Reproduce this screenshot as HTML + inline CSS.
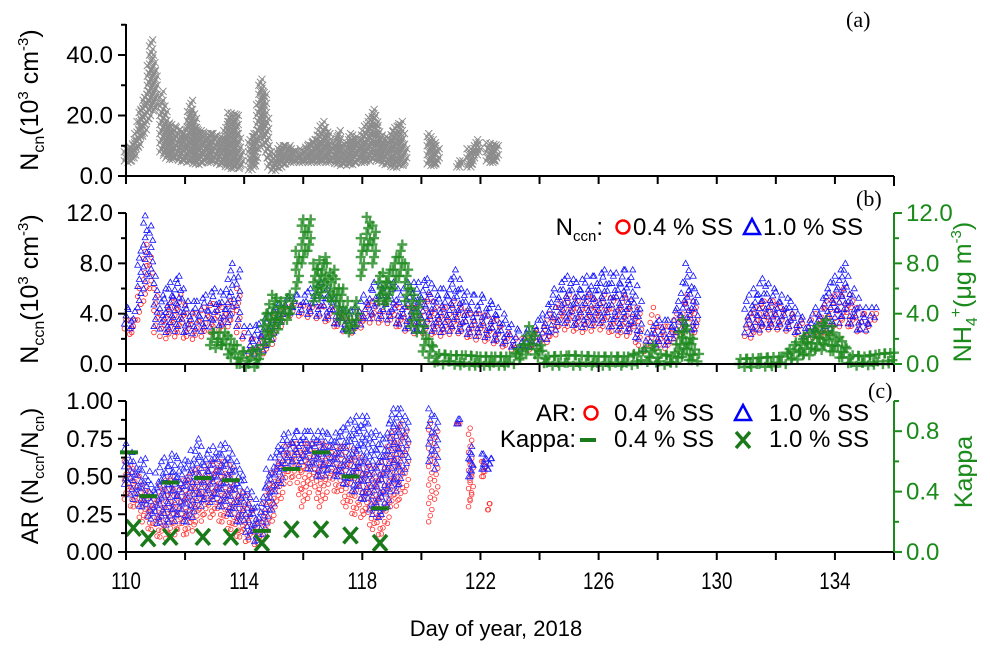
<!DOCTYPE html>
<html><head><meta charset="utf-8">
<style>
html,body{margin:0;padding:0;background:#fff;}
svg{display:block;font-family:"Liberation Sans",sans-serif;}
</style></head>
<body>
<svg id="chart" width="990" height="651" viewBox="0 0 990 651" xmlns="http://www.w3.org/2000/svg">
<rect width="990" height="651" fill="#fff"/>
<g id="marks"></g>
<g id="axes"></g>
<text x="846" y="27" font-family="Liberation Serif,serif" font-size="22">(a)</text>
<text x="856" y="206" font-family="Liberation Serif,serif" font-size="22">(b)</text>
<text x="868" y="398" font-family="Liberation Serif,serif" font-size="22">(c)</text>
<text transform="translate(38,100) rotate(-90)" text-anchor="middle" font-size="25">N<tspan font-size="16" dy="6">cn</tspan><tspan dy="-6">(10</tspan><tspan font-size="15" dy="-10">3</tspan><tspan dy="10"> cm</tspan><tspan font-size="15" dy="-10">-3</tspan><tspan dy="10">)</tspan></text>
<text transform="translate(38,289) rotate(-90)" text-anchor="middle" font-size="25">N<tspan font-size="16" dy="6">ccn</tspan><tspan dy="-6">(10</tspan><tspan font-size="15" dy="-10">3</tspan><tspan dy="10"> cm</tspan><tspan font-size="15" dy="-10">-3</tspan><tspan dy="10">)</tspan></text>
<text transform="translate(38,476) rotate(-90)" text-anchor="middle" font-size="24">AR (N<tspan font-size="15" dy="6">ccn</tspan><tspan dy="-6">/N</tspan><tspan font-size="15" dy="6">cn</tspan><tspan dy="-6">)</tspan></text>
<text transform="translate(971,292) rotate(-90)" text-anchor="middle" font-size="25" fill="#1a8a1a">NH<tspan font-size="16" dy="6">4</tspan><tspan font-size="16" dy="-16">+</tspan><tspan dy="10">(μg m</tspan><tspan font-size="15" dy="-10">-3</tspan><tspan dy="10">)</tspan></text>
<text transform="translate(972,472) rotate(-90)" text-anchor="middle" font-size="25" fill="#1a8a1a">Kappa</text>
<text x="496" y="636" text-anchor="middle" font-size="22">Day of year, 2018</text>
<g font-size="24">
<text x="603" y="235" text-anchor="end">N<tspan font-size="15" dy="6">ccn</tspan><tspan dy="-6">:</tspan></text>
<circle cx="623" cy="227" r="6.5" fill="none" stroke="#f00" stroke-width="2.5"/>
<text x="633" y="235">0.4 % SS</text>
<polygon points="752,219 760,234 744,234" fill="none" stroke="#00f" stroke-width="2.5"/>
<text x="763" y="235">1.0 % SS</text>
</g>
<g font-size="24">
<text x="576" y="421" text-anchor="end">AR:</text>
<circle cx="591" cy="413" r="6.5" fill="none" stroke="#f00" stroke-width="2.5"/>
<text x="614" y="421">0.4 % SS</text>
<polygon points="743,405 751,420 735,420" fill="none" stroke="#00f" stroke-width="2.5"/>
<text x="769" y="421">1.0 % SS</text>
<text x="576" y="447" text-anchor="end">Kappa:</text>
<line x1="580" y1="440" x2="596" y2="440" stroke="#1a7a1a" stroke-width="4"/>
<text x="614" y="447">0.4 % SS</text>
<path d="M736,432 L750,448 M750,432 L736,448" stroke="#1a7a1a" stroke-width="3.5"/>
<text x="769" y="447">1.0 % SS</text>
</g>
</svg>
<script>
// ---------- data ----------
const ncnDay = [110.0,110.2,110.35,110.5,110.7,110.85,111.0,null,111.2,111.4,111.7,112.0,112.2,112.4,112.7,113.0,113.3,113.5,113.75,113.9,null,114.2,114.4,114.55,114.7,114.85,115.0,115.2,115.5,115.8,116.1,116.4,116.7,117.0,117.2,117.4,117.6,117.9,118.2,118.4,118.6,118.9,119.1,119.3,119.45,null,120.25,120.55,null,121.25,121.35,null,121.6,121.75,null,121.85,121.95,null,122.25,122.55];
const ncnLow  = [5,5,8,12,17,22,22,null,8,6,6,5,5,4,5,5,4,3,3,3,null,2,4,15,10,3,2,3,5,5,5,5,5,5,4,4,4,5,5,6,5,4,3,4,4,null,4,4,null,3,3,null,3,4,null,7,7,null,5,5];
const ncnHigh = [9,10,14,22,28,45,35,null,28,18,16,14,25,16,14,14,12,21,20,8,null,12,15,32,28,10,6,10,10,8,10,12,18,10,15,8,14,12,18,22,14,12,16,18,10,null,14,10,null,5,5,null,9,9,null,12,11,null,11,10];

const ccnDay = [110.0,110.25,110.45,110.65,110.85,111.0,111.2,111.5,111.8,112.1,112.4,112.7,113.0,113.3,113.6,113.8,114.0,null,114.2,114.5,114.8,115.1,115.4,115.7,116.0,116.3,116.6,116.9,117.2,117.5,117.8,118.1,118.4,118.7,119.0,119.3,119.6,119.9,120.2,120.5,120.8,121.1,121.4,121.7,122.0,122.3,122.6,122.9,123.2,123.5,123.8,124.1,124.4,124.7,125.0,125.3,125.6,125.9,126.2,126.5,126.8,127.1,127.4,127.6,127.8,128.1,128.4,128.7,129.0,129.3,null,131.0,131.3,131.6,131.9,132.2,132.5,132.8,133.1,133.4,133.7,134.0,134.3,134.6,134.9,135.2,135.4];
const ccn04Low  = [2.8,2.5,3.5,5,6,2.5,2.2,2.4,2.5,2.2,2.3,2.6,3,3,3.5,2.5,2,null,0.8,1,1.2,2.5,4,4.2,4,4,3.8,3.5,3,2.7,2.8,3.5,3.6,3.5,3.5,3,2.8,2.6,2.8,2.5,2.5,2.8,2.6,2.2,2.2,2,1.8,1.5,1.3,1.3,1.5,1.8,2.2,3,3,2.8,2.8,3,3,2.6,2.5,2.5,1.5,1,1.5,1.5,1.5,2.5,3,2.5,null,2.2,2.5,3,3,3,2.8,2.5,2.2,2.5,2.5,3,3.5,3,2.7,3,3.5];
const ccn04High = [3.5,3.5,6,9.5,8.5,6,4,5,5.5,4,4,4.5,4.8,4.5,5,6,2.5,null,2,2,2.5,4,4.5,4.8,4.6,4.5,4.6,4.5,4,3.5,3.8,4.5,5,4.8,4.8,4.5,4.5,4.5,5.5,4.5,4.5,5,4.5,4,4,3.8,3.5,2.5,2,2,2.5,3,4,5,5.5,5,5.5,5,5.5,5,5.5,5,4,2,4.5,3,3,4,5.5,4.5,null,3.5,4.5,5,5,4.5,4,3.5,3,4,5,5.5,6,5,4,4,4];
const ccn10Low  = [3.2,3,4.5,6,7,3,2.8,2.8,3,2.6,2.8,3,3.5,3.2,4,3,2.2,null,1,1.2,1.5,3,4.2,4.5,4.3,4.2,4,3.8,3.2,2.8,3,3.8,4,3.8,3.8,3.2,3,2.8,3,2.8,2.8,3,2.8,2.5,2.5,2.3,2,1.8,1.5,1.5,1.8,2,2.5,3.5,3.5,3.2,3.2,3.5,3.5,3,3,2.8,2,1.2,1.8,1.8,1.8,2.8,3.2,2.8,null,2.5,2.8,3.2,3.2,3.2,3,2.6,2.4,2.8,3,3.2,3.8,3.2,2.8,3.2,3.7];
const ccn10High = [4.5,4.2,9,11.8,11,7,5.5,6.5,7,5,5,5.5,6,5.5,8,7.5,3,null,3,3.2,4,4.5,5.2,5.5,5.5,6,6.5,5.5,4.8,4,4.5,5.5,6.5,6,6.5,5.5,6.5,6.5,6.8,6,6,7.5,6,5.5,5.5,5,4.5,3.5,2.8,2.5,3,4,5.5,6.5,7,6.5,7,7,7.5,7,7.5,7.5,5,2.5,3,3.5,3.5,5,8,6,null,5,6,6.8,6,5.5,5,4,3.5,4.5,6,7,8,6,4.5,4.5,4.5];

const nh4Day  = [112.9,113.3,113.6,113.9,114.2,114.5,114.7,115.0,115.3,115.6,115.8,116.0,116.2,116.4,116.7,117.0,117.3,117.6,117.8,118.0,118.2,118.4,118.6,118.9,119.1,119.3,119.5,119.7,119.9,120.1,120.3,120.6,121.0,121.5,122.0,122.5,123.0,123.4,123.7,124.0,124.3,125.0,126.0,127.0,127.5,127.8,128.1,128.5,128.9,129.2,129.4,null,130.8,131.5,132.2,132.6,133.0,133.4,133.7,134.0,134.3,134.6,135.0,135.5,136.0];
const nh4Low  = [1.5,1.5,0.5,0,0,0,1.5,2.5,3.5,4,6,8,9,5,6,5,3.5,2.5,3,7,9,8,5,5,6,7,5,3,2.5,1,0.5,0.2,0.2,0.1,0.1,0.1,0.1,0.5,1.5,0.5,0.1,0.1,0.1,0.1,0.3,0.5,0.2,0.1,0.8,0.3,0.2,null,0,0,0.1,0.5,0.8,1.2,1.5,1,0.5,0.1,0.1,0.2,0.3];
const nh4High = [2.5,2.5,2,1,1,1.2,4,5.5,5,5.5,9,11.5,11.5,8,8.5,7.5,6,4,5,10,11.7,11,7,7.5,8.5,9.5,8,6,5,3,2,0.8,0.7,0.7,0.6,0.6,0.6,1.5,3,1.5,0.6,0.7,0.6,0.6,1,1.5,0.8,0.6,3.5,2,0.8,null,0.4,0.5,0.6,1.5,2.2,3,3.5,2.5,1.8,0.7,0.6,0.8,0.9];

const arDay = [110.0,110.3,110.6,110.9,111.2,111.5,111.8,112.1,112.4,112.7,113.0,113.3,113.6,113.9,114.2,114.5,114.8,115.1,115.4,115.7,116.0,116.3,116.6,116.9,117.2,117.5,117.8,118.1,118.4,118.7,119.0,119.3,119.5,null,120.3,120.5,null,121.25,121.3,null,121.65,121.7,null,122.1,122.15,null,122.3,122.32];
const ar04Low  = [0.35,0.3,0.2,0.15,0.1,0.12,0.15,0.12,0.2,0.25,0.25,0.2,0.15,0.1,0.08,0.06,0.15,0.3,0.45,0.5,0.3,0.45,0.3,0.45,0.4,0.3,0.25,0.25,0.15,0.12,0.3,0.35,0.4,null,0.2,0.35,null,0.85,0.85,null,0.3,0.35,null,0.5,0.5,null,0.28,0.28];
const ar04High = [0.6,0.55,0.45,0.35,0.45,0.5,0.45,0.5,0.55,0.55,0.6,0.6,0.55,0.4,0.35,0.2,0.45,0.6,0.7,0.72,0.72,0.72,0.72,0.7,0.7,0.7,0.65,0.6,0.55,0.6,0.8,0.85,0.8,null,0.85,0.8,null,0.85,0.85,null,0.82,0.6,null,0.6,0.6,null,0.32,0.32];
const ar10Low  = [0.45,0.35,0.3,0.22,0.2,0.2,0.25,0.2,0.3,0.35,0.35,0.3,0.25,0.2,0.1,0.08,0.2,0.4,0.55,0.6,0.6,0.55,0.5,0.55,0.5,0.45,0.4,0.35,0.25,0.25,0.4,0.45,0.55,null,0.6,0.55,null,0.85,0.85,null,0.5,0.5,null,0.55,0.55,null,0.55,0.55];
const ar10High = [0.72,0.6,0.62,0.45,0.6,0.65,0.62,0.6,0.75,0.65,0.7,0.72,0.65,0.55,0.4,0.3,0.55,0.7,0.78,0.8,0.8,0.8,0.8,0.78,0.8,0.85,0.9,0.9,0.8,0.75,0.95,0.95,0.9,null,0.95,0.9,null,0.88,0.88,null,0.7,0.65,null,0.65,0.65,null,0.62,0.62];

const kappaDay = [110.1,110.75,111.5,112.6,113.55,114.6,115.6,116.6,117.6,118.6];
const kappa04  = [0.66,0.37,0.46,0.49,0.475,0.14,0.55,0.66,0.50,0.29];
const kappa10Day = [110.25,110.75,111.5,112.6,113.55,114.6,115.6,116.6,117.6,118.6];
const kappa10  = [0.16,0.09,0.10,0.10,0.10,0.06,0.15,0.15,0.11,0.06];

const xTicks = [110,114,118,122,126,130,134];
const aTicks = [0,20,40];
const aTickLabels = ["0.0","20.0","40.0"];
const bTicks = [0,4,8,12];
const bTickLabels = ["0.0","4.0","8.0","12.0"];
const cTicks = [0,0.25,0.5,0.75,1.0];
const cTickLabels = ["0.00","0.25","0.50","0.75","1.00"];
const kTicks = [0,0.4,0.8];
const kTickLabels = ["0.0","0.4","0.8"];

// ---------- scales ----------
const X0=126, X1=894;
function x(d){return X0+(d-110)*(X1-X0)/26;}
function ya(v){return 176-v*3.025;}
function yb(v){return 364-v*12.58;}
function yc(v){return 552-v*151;}

const NS="http://www.w3.org/2000/svg";
const marks=document.getElementById('marks');
const axes=document.getElementById('axes');
function el(tag,parent){const e=document.createElementNS(NS,tag);parent.appendChild(e);return e;}
function group(name){
  const g=el('g',marks);
  
  
  return g;
}
function drawMarker(g,kind,px,py){
  let m;
  if(kind==='x'){
    m=el('path',g);
    m.setAttribute('d',`M${px-3.5},${py-3.5}L${px+3.5},${py+3.5}M${px+3.5},${py-3.5}L${px-3.5},${py+3.5}`);
  } else if(kind==='o'){
    m=el('circle',g);
    m.setAttribute('cx',px);m.setAttribute('cy',py);m.setAttribute('r',2.3);
  } else if(kind==='t'){
    m=el('polygon',g);
    m.setAttribute('points',`${px},${py-3} ${px+3},${py+2.3} ${px-3},${py+2.3}`);
  } else {
    m=el('path',g);
    m.setAttribute('d',`M${px-5},${py}L${px+5},${py}M${px},${py-5}L${px},${py+5}`);
  }
}
function cloud(g,days,lo,hi,yfun,kind,xstep,vstep){
  for(let i=0;i<days.length;i++){
    if(days[i]===null) continue;
    const nextOk = i+1<days.length && days[i+1]!==null;
    const xa=x(days[i]);
    const xb=nextOk?x(days[i+1]):xa;
    const n=Math.max(1,Math.round((xb-xa)/xstep));
    const last = nextOk ? n-1 : 0;
    for(let k=0;k<=last;k++){
      const t=nextOk?k/n:0;
      const px=xa+(xb-xa)*t;
      const l=lo[i]+(nextOk?(lo[i+1]-lo[i])*t:0);
      const h=hi[i]+(nextOk?(hi[i+1]-hi[i])*t:0);
      const y1=yfun(l), y2=yfun(h);
      const cnt=Math.max(1,Math.round((y1-y2)/vstep));
      for(let j=0;j<=cnt;j++){
        const py=y1+(y2-y1)*j/cnt + ((k%2)? vstep/2*(j<cnt?1:0):0);
        const off=((j+k)%3-1)*1.6;
        drawMarker(g,kind,px+off,py);
      }
    }
  }
}

const gA=group('ncn-series');
gA.setAttribute('stroke','#8c8c8c');gA.setAttribute('stroke-width','1');gA.setAttribute('fill','none');
cloud(gA,ncnDay,ncnLow,ncnHigh,ya,'x',2,3);

const gR=group('nccn-04ss-series');
gR.setAttribute('stroke','#ff2020');gR.setAttribute('stroke-width','0.8');gR.setAttribute('fill','none');
cloud(gR,ccnDay,ccn04Low,ccn04High,yb,'o',4,7);
const gB=group('nccn-10ss-series');
gB.setAttribute('stroke','#1010ff');gB.setAttribute('stroke-width','0.8');gB.setAttribute('fill','none');
cloud(gB,ccnDay,ccn10Low,ccn10High,yb,'t',4,7);
const gN=group('nh4-series');
gN.setAttribute('stroke','#1e8a1e');gN.setAttribute('stroke-width','2.4');gN.setAttribute('stroke-opacity','0.8');gN.setAttribute('fill','none');
cloud(gN,nh4Day,nh4Low,nh4High,yb,'p',4,6);

const gR2=group('ar-04ss-series');
gR2.setAttribute('stroke','#ff3030');gR2.setAttribute('stroke-width','0.8');gR2.setAttribute('fill','none');
cloud(gR2,arDay,ar04Low,ar04High,yc,'o',4,6);
const gB2=group('ar-10ss-series');
gB2.setAttribute('stroke','#2020ff');gB2.setAttribute('stroke-width','0.8');gB2.setAttribute('fill','none');
cloud(gB2,arDay,ar10Low,ar10High,yc,'t',4,6);

const gK=group('kappa-04ss-series');
for(let i=0;i<kappaDay.length;i++){
  const l=el('line',gK);
  
  
  l.setAttribute('x1',x(kappaDay[i])-9);l.setAttribute('x2',x(kappaDay[i])+9);
  l.setAttribute('y1',yc(kappa04[i]));l.setAttribute('y2',yc(kappa04[i]));
  l.setAttribute('stroke','#1a7a1a');l.setAttribute('stroke-width','4');
}
const gK2=group('kappa-10ss-series');
for(let i=0;i<kappa10Day.length;i++){
  const px=x(kappa10Day[i]), py=yc(kappa10[i]);
  const p=el('path',gK2);
  
  
  p.setAttribute('d',`M${px-7},${py-8}L${px+7},${py+8}M${px+7},${py-8}L${px-7},${py+8}`);
  p.setAttribute('stroke','#1a7a1a');p.setAttribute('stroke-width','3.5');p.setAttribute('fill','none');
}

// ---------- axes ----------
function line(x1,y1,x2,y2,col,w,name){
  const l=el('line',axes);
  l.setAttribute('x1',x1);l.setAttribute('y1',y1);l.setAttribute('x2',x2);l.setAttribute('y2',y2);
  l.setAttribute('stroke',col);l.setAttribute('stroke-width',w);
  
  
  return l;
}
function label(txt,px,py,anchor,col,name,sx){
  const t=el('text',axes);
  t.textContent=txt;
  t.setAttribute('text-anchor',anchor);t.setAttribute('font-size','24');t.setAttribute('fill',col);
  if(sx){t.setAttribute('transform',`translate(${px},${py}) scale(${sx},1)`);}
  else {t.setAttribute('x',px);t.setAttribute('y',py);}
  
  
}
const GREEN='#1a8a1a';
[176,364,552].forEach(yy=>{
  line(X0,yy,X1,yy,'#000',2,'x-axis-line');
  for(let d=110;d<=136;d+=2){
    line(x(d),yy,x(d),yy+8,'#000',2,'x-tick');
  }
});
xTicks.forEach(d=>label(String(d),x(d),589,'middle','#000','x-tick-label',0.78));

line(X0,24,X0,176,'#000',2,'y-axis-a-line');
for(let v=0;v<=50;v+=10){line(X0-(v%20===0?8:5),ya(v),X0,ya(v),'#000',2,'y-tick-a');}
aTicks.forEach((v,i)=>label(aTickLabels[i],113,ya(v)+8,'end','#000','y-tick-label-a'));

line(X0,213,X0,364,'#000',2,'y-axis-b-line');
for(let v=0;v<=12;v+=2){line(X0-(v%4===0?8:5),yb(v),X0,yb(v),'#000',2,'y-tick-b');}
bTicks.forEach((v,i)=>label(bTickLabels[i],113,yb(v)+8,'end','#000','y-tick-label-b'));
line(X1,213,X1,364,GREEN,2,'y-axis-nh4-line');
for(let v=0;v<=12;v+=2){line(X1,yb(v),X1+(v%4===0?8:5),yb(v),GREEN,2,'y-tick-nh4');}
bTicks.forEach((v,i)=>label(bTickLabels[i],906,yb(v)+8,'start',GREEN,'y-tick-label-nh4'));
line(X1,176,X1,186,'#000',2,'x-axis-end-tick');

line(X0,401,X0,552,'#000',2,'y-axis-c-line');
for(let v=0;v<=1.001;v+=0.125){line(X0-(Math.round(v*8)%2===0?8:5),yc(v),X0,yc(v),'#000',2,'y-tick-c');}
cTicks.forEach((v,i)=>label(cTickLabels[i],113,yc(v)+8,'end','#000','y-tick-label-c'));
line(X1,401,X1,552,GREEN,2,'y-axis-kappa-line');
for(let v=0;v<=1.001;v+=0.2){line(X1,yc(v),X1+(Math.round(v*10)%4===0?8:5),yc(v),GREEN,2,'y-tick-kappa');}
kTicks.forEach((v,i)=>label(kTickLabels[i],906,yc(v)+8,'start',GREEN,'y-tick-label-kappa'));
</script>
</body></html>
